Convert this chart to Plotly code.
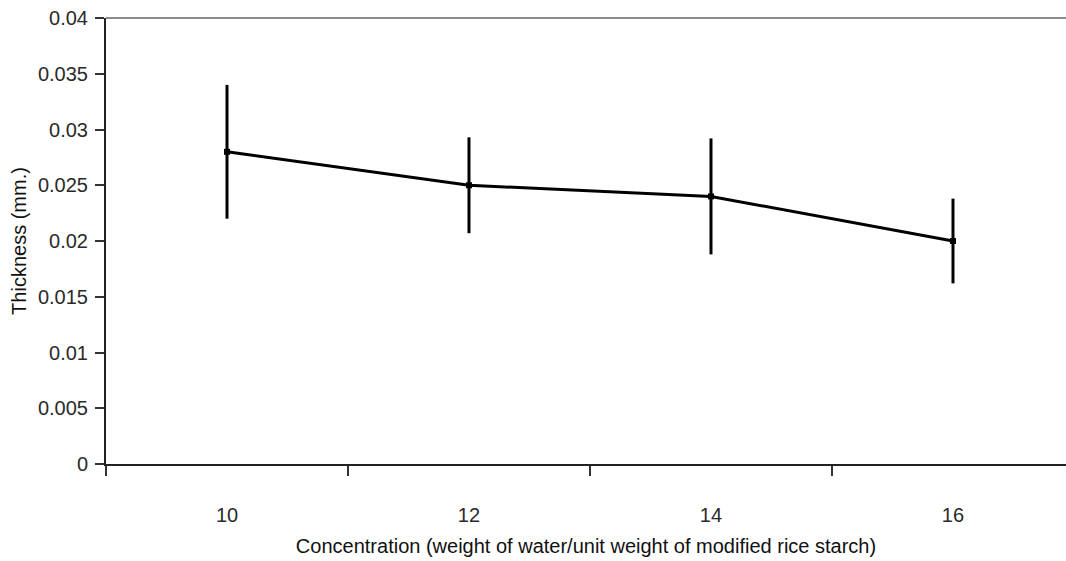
import plotly.graph_objects as go

categories = ["10", "12", "14", "16"]
thickness = [0.028, 0.025, 0.024, 0.020]
errors = [0.006, 0.0043, 0.0052, 0.0038]
y_ticks = [0, 0.005, 0.01, 0.015, 0.02, 0.025, 0.03, 0.035, 0.04]
y_tick_text = ["0", "0.005", "0.01", "0.015", "0.02", "0.025", "0.03", "0.035", "0.04"]

font_family = "Liberation Sans, Arial, Helvetica, sans-serif"
text_color = "#2a2a2a"

fig = go.Figure()
fig.add_trace(go.Scatter(
    x=categories, y=thickness,
    mode="lines+markers",
    line=dict(color="black", width=3),
    marker=dict(symbol="square", size=6, color="black"),
    error_y=dict(type="data", array=errors, visible=True,
                 color="black", thickness=3, width=0),
    showlegend=False,
))

fig.update_layout(
    width=1066, height=561,
    margin=dict(l=106, r=0, t=18, b=97),
    paper_bgcolor="white", plot_bgcolor="white",
    font=dict(family=font_family, size=20, color=text_color),
    xaxis=dict(
        type="category",
        range=[-0.5, 3.467],
        tickson="boundaries",
        ticks="outside", ticklen=10, tickwidth=1.5, tickcolor="#333333",
        showline=True, linecolor="#222222", linewidth=2,
        showgrid=False, zeroline=False,
        ticklabelstandoff=32,
        tickfont=dict(size=20, color=text_color),
        title=dict(text="Concentration (weight of water/unit weight of modified rice starch)",
                   font=dict(size=20, color="#111111"), standoff=14),
    ),
    yaxis=dict(
        range=[0, 0.04],
        tickvals=y_ticks, ticktext=y_tick_text,
        ticks="outside", ticklen=9, tickwidth=1.5, tickcolor="#333333",
        showline=True, linecolor="#222222", linewidth=2,
        showgrid=False, zeroline=False,
        ticklabelstandoff=3,
        tickfont=dict(size=20, color=text_color),
        title=dict(text="Thickness (mm.)", font=dict(size=20, color="#111111"), standoff=6),
    ),
)

# grey top border of plot area
fig.add_shape(type="line", xref="paper", yref="paper", x0=0, x1=1, y0=1, y1=1,
              line=dict(color="#8c8c8c", width=2))

fig.write_html("out.html")
